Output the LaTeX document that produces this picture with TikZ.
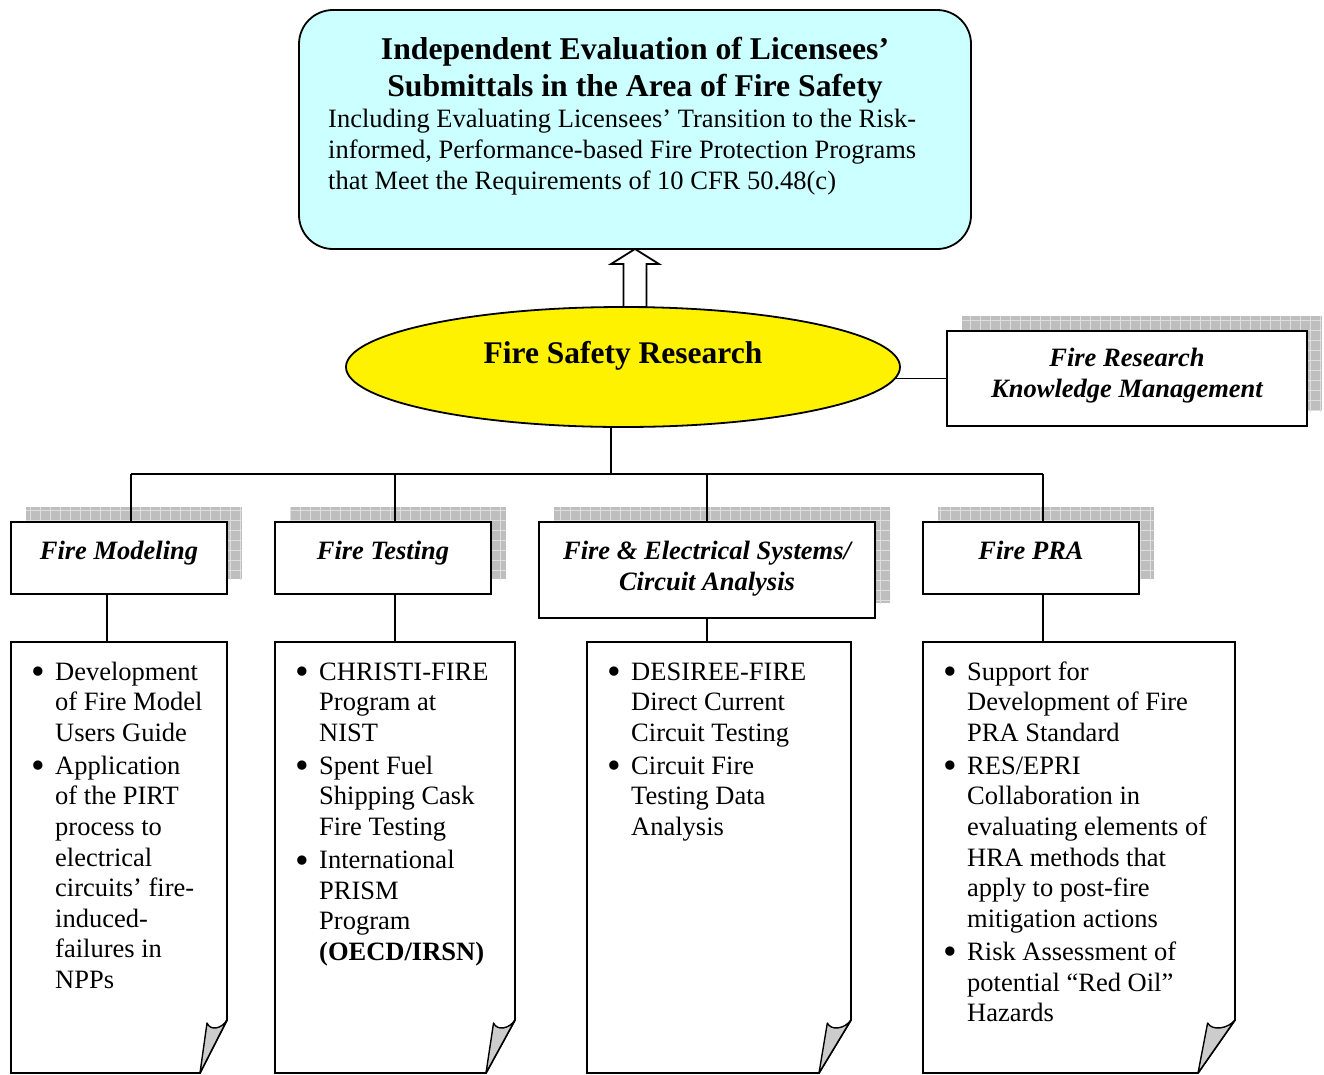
\documentclass[tikz,border=0pt]{standalone}
\usepackage{fontspec}
\setmainfont{Liberation Serif}
\usetikzlibrary{shapes.geometric,calc,backgrounds}

\definecolor{topcyan}{RGB}{204,255,255}
\definecolor{curlgray}{RGB}{204,204,204}
\definecolor{shadowfill}{RGB}{190,190,190}
\definecolor{shadowline}{RGB}{222,222,222}

% list bullet, a little larger than the text font's own
\newcommand\bul{\makebox[24pt][l]{\raisebox{-4.4pt}{\fontsize{39}{30}\selectfont•}}}
\newcommand\itemgap{\\[2.5pt]}

% a sheet of paper with its lower right corner curled up
\newcommand\curledpage[2]{%
  \draw[pageline, fill=white]
    (#1.south west) -- (#1.north west) -- (#1.north east)
    -- ($(#1.south east)+(0,-53)$) -- ($(#1.south east)+(-#2,0)$) -- cycle;
  \draw[curlline, fill=curlgray]
    ($(#1.south east)+(0,-53)$)
      .. controls ($(#1.south east)+(-0.2*#2,-44)$) and ($(#1.south east)+(-0.62*#2,-42)$)
      .. ($(#1.south east)+(-0.74*#2,-50)$)
    -- ($(#1.south east)+(-#2,0)$) -- cycle;
}

\tikzset{
  link/.style={line width=1.8pt, draw=black},
  pageline/.style={line width=1.8pt, draw=black, line join=miter},
  curlline/.style={line width=1.4pt, draw=black, line join=round},
  hollow/.style={line width=1.8pt, draw=black, fill=white, line join=miter},
  goalbox/.style={draw, line width=1.8pt, fill=topcyan, rounded corners=34pt,
    minimum width=672pt, minimum height=239pt, inner sep=0pt, outer sep=0pt},
  hub/.style={ellipse, draw, line width=1.8pt, fill=yellow, minimum width=554pt,
    minimum height=120pt, inner sep=0pt, outer sep=0pt,
    font=\fontsize{31.5}{37}\selectfont\bfseries, text height=22pt, text depth=30pt},
  catbox/.style={draw, line width=1.8pt, fill=white, inner sep=0pt, outer sep=0pt,
    font=\fontsize{26.5}{31}\selectfont\bfseries\itshape},
  pagearea/.style={inner sep=0pt, outer sep=0pt},
  titletext/.style={inner sep=0pt, font=\fontsize{31.7}{37}\selectfont\bfseries},
  bodytext/.style={inner sep=0pt, font=\fontsize{26.5}{31}\selectfont},
  listtext/.style={inner sep=0pt, anchor=base west, font=\fontsize{26.5}{30.6}\selectfont},
  shadowgrid/.style={draw=shadowline, line width=1pt},
}

\begin{document}
\begin{tikzpicture}[x=1pt, y=-1pt]
\useasboundingbox (0,0) rectangle (1324,1074);

% ---------- goal box ----------
\node[goalbox] (goal) at (635,129.5) {};
\node[titletext, anchor=base] (goaltitle) at (635,59)
  {\begin{tabular}[t]{@{}c@{}}Independent Evaluation of Licensees’\\
   Submittals in the Area of Fire Safety\end{tabular}};
\node[bodytext, anchor=base west] (goalbody) at (328,127)
  {\begin{tabular}[t]{@{}l@{}}Including Evaluating Licensees’ Transition to the Risk-\\
   informed, Performance-based Fire Protection Programs\\
   that Meet the Requirements of 10 CFR 50.48(c)\end{tabular}};

% ---------- hub and side box ----------
\node[hub] (fsr) at (623,367) {Fire Safety Research};
\node[catbox, minimum width=360pt, minimum height=95pt, text height=20pt, text depth=45pt]
  (km) at (1127,378.5)
  {\begin{tabular}[t]{@{}c@{}}Fire Research\\ Knowledge Management\end{tabular}};

% ---------- research areas ----------
\node[catbox, minimum width=216pt, minimum height=72pt, text height=20pt, text depth=18pt]
  (fm) at (119,558) {Fire Modeling};
\node[catbox, minimum width=216pt, minimum height=72pt, text height=20pt, text depth=18pt]
  (ft) at (383,558) {Fire Testing};
\node[catbox, minimum width=336pt, minimum height=96pt, text height=20pt, text depth=42pt]
  (fe) at (707,570)
  {\begin{tabular}[t]{@{}c@{}}Fire \& Electrical Systems/\\ Circuit Analysis\end{tabular}};
\node[catbox, minimum width=216pt, minimum height=72pt, text height=20pt, text depth=18pt]
  (pra) at (1031,558) {Fire PRA};

% ---------- grid shadows behind the boxes ----------
\begin{scope}[on background layer]
  \fill[white] (0,0) rectangle (1324,1074);
  \foreach \n in {km,fm,ft,fe,pra}{
    \begin{scope}
      \clip ([shift={(15,-15)}]\n.north west) rectangle ([shift={(15,-15)}]\n.south east);
      \fill[shadowfill] ([shift={(15,-15)}]\n.north west) rectangle ([shift={(15,-15)}]\n.south east);
      \draw[shadowgrid] ([shift={(0,-40)}]\n.north west) grid[step=10pt] ([shift={(40,0)}]\n.south east);
    \end{scope}
  }
\end{scope}

% ---------- pages ----------
\node[pagearea, minimum width=216pt, minimum height=431pt, anchor=north west] (p1) at (11,642) {};
\node[pagearea, minimum width=240pt, minimum height=431pt, anchor=north west] (p2) at (275,642) {};
\node[pagearea, minimum width=264pt, minimum height=431pt, anchor=north west] (p3) at (587,642) {};
\node[pagearea, minimum width=312pt, minimum height=431pt, anchor=north west] (p4) at (923,642) {};
\curledpage{p1}{27}
\curledpage{p2}{29}
\curledpage{p3}{32}
\curledpage{p4}{37}

\node[listtext] (l1) at ($(p1.north west)+(20,38)$)
  {\begin{tabular}[t]{@{}l@{}l@{}}
   \bul & Development\\ & of Fire Model\\ & Users Guide\itemgap
   \bul & Application\\ & of the PIRT\\ & process to\\ & electrical\\
        & circuits’ fire-\\ & induced-\\ & failures in\\ & NPPs
   \end{tabular}};
\node[listtext] (l2) at ($(p2.north west)+(20,38)$)
  {\begin{tabular}[t]{@{}l@{}l@{}}
   \bul & CHRISTI-FIRE\\ & Program at\\ & NIST\itemgap
   \bul & Spent Fuel\\ & Shipping Cask\\ & Fire Testing\itemgap
   \bul & International\\ & PRISM\\ & Program\\ & \textbf{(OECD/IRSN)}
   \end{tabular}};
\node[listtext] (l3) at ($(p3.north west)+(20,38)$)
  {\begin{tabular}[t]{@{}l@{}l@{}}
   \bul & DESIREE-FIRE\\ & Direct Current\\ & Circuit Testing\itemgap
   \bul & Circuit Fire\\ & Testing Data\\ & Analysis
   \end{tabular}};
\node[listtext] (l4) at ($(p4.north west)+(20,38)$)
  {\begin{tabular}[t]{@{}l@{}l@{}}
   \bul & Support for\\ & Development of Fire\\ & PRA Standard\itemgap
   \bul & RES/EPRI\\ & Collaboration in\\ & evaluating elements of\\
        & HRA methods that\\ & apply to post-fire\\ & mitigation actions\itemgap
   \bul & Risk Assessment of\\ & potential “Red Oil”\\ & Hazards
   \end{tabular}};

% ---------- connectors ----------
\coordinate (arrowbase) at (goal.south |- fsr.north);
\draw[hollow] (goal.south) -- ++(24,15) -- ++(-12.5,0)
  -- ($(arrowbase)+(11.5,0)$) -- ($(arrowbase)+(-11.5,0)$)
  -- ($(goal.south)+(-11.5,15)$) -- ($(goal.south)+(-24,15)$) -- cycle;

% horizontal link, carried on past the east anchor to meet the ellipse outline
\draw[link, shorten >=-4.5pt] (km.west) -- (km.west -| fsr.east);

\coordinate (hubfoot) at (611,474);
\coordinate (b1) at (131,474);
\coordinate (b2) at (395,474);
\coordinate (b3) at (707,474);
\coordinate (b4) at (1043,474);
\draw[link] (hubfoot |- fsr.south) -- (hubfoot);
\draw[link] (b1) -- (b4);
\foreach \b/\n in {b1/fm, b2/ft, b3/fe, b4/pra}
  \draw[link] (\b) -- (\b |- \n.north);

\coordinate (s1) at (107,620);
\coordinate (s2) at (395,620);
\coordinate (s3) at (707,620);
\coordinate (s4) at (1043,620);
\foreach \s/\n/\p in {s1/fm/p1, s2/ft/p2, s3/fe/p3, s4/pra/p4}
  \draw[link] (\s |- \n.south) -- (\s |- \p.north);
\end{tikzpicture}
\end{document}
